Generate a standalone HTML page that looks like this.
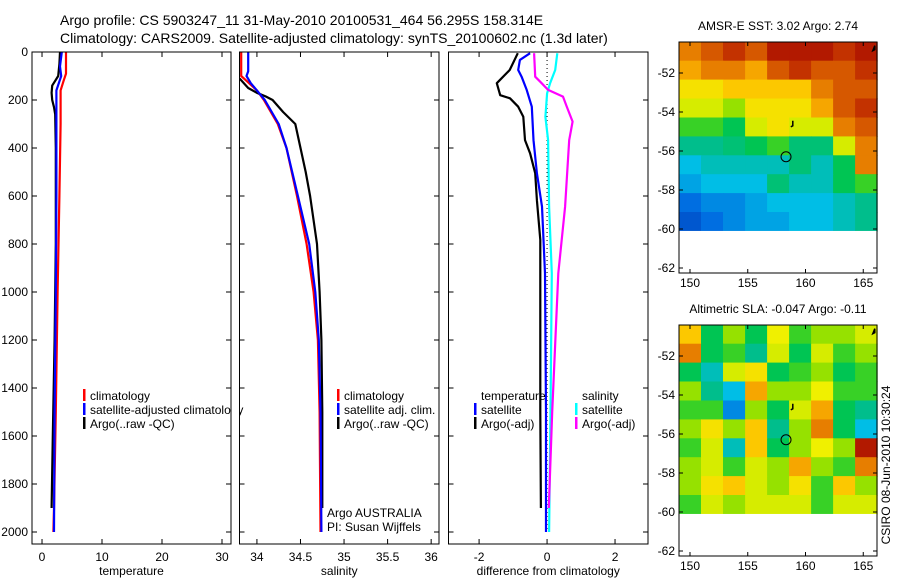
<!DOCTYPE html>
<html><head><meta charset="utf-8">
<style>
html,body{margin:0;padding:0;background:#fff;}
svg{display:block;font-family:"Liberation Sans",sans-serif;}
text{fill:#000;}
</style></head>
<body>
<svg id="fig" width="900" height="580" viewBox="0 0 900 580" xmlns="http://www.w3.org/2000/svg">
<text x="60" y="25" font-size="14">Argo profile: CS 5903247_11 31-May-2010 20100531_464 56.295S 158.314E</text>
<text x="60" y="43" font-size="14">Climatology: CARS2009. Satellite-adjusted climatology: synTS_20100602.nc (1.3d later)</text>
</svg>
<script>
// ---------- data ----------
const depthTicks=[0,200,400,600,800,1000,1200,1400,1600,1800,2000];
const tempTicks=[0,10,20,30];
const salTicks=[34,34.5,35,35.5,36];
const salTickLabels=["34","34.5","35","35.5","36"];
const diffTicks=[-2,0,2];
// temperature panel
const tArgoDepth=[0,50,100,120,140,170,200,230,260,400,800,1200,1600,1900];
const tArgoVal=[3.0,2.9,2.7,2.2,1.7,1.6,1.7,2.0,2.2,2.3,2.3,2.1,1.8,1.6];
const tClimDepth=[0,90,120,160,300,600,1000,1500,1900,2000];
const tClimVal=[4.0,4.0,3.6,3.1,3.1,2.9,2.6,2.3,2.0,1.9];
const tSatDepth=[0,60,100,160,250,600,1000,1500,2000];
const tSatVal=[3.3,3.0,3.2,2.4,2.4,2.4,2.3,2.1,2.0];
// salinity panel
const sArgoDepth=[110,130,150,170,185,200,250,300,400,500,600,800,1000,1200,1500,1900];
const sArgoVal=[33.8,33.85,33.9,34.0,34.1,34.18,34.3,34.44,34.5,34.56,34.61,34.69,34.72,34.74,34.75,34.75];
const sClimDepth=[0,100,120,160,200,300,400,600,800,1000,1200,1500,2000];
const sClimVal=[33.82,33.82,33.88,34.0,34.08,34.24,34.34,34.46,34.57,34.65,34.7,34.72,34.73];
const sSatDepth=[0,80,100,130,160,200,300,400,600,800,1000,1200,1500,2000];
const sSatVal=[33.9,33.9,33.88,33.93,34.0,34.09,34.25,34.34,34.47,34.6,34.67,34.71,34.73,34.74];
// difference panel
const dTempArgoDepth=[5,75,130,180,193,228,270,367,422,505,617,783,1200,1500,1900];
const dTempArgoVal=[-0.86,-1.1,-1.48,-1.38,-1.09,-0.85,-0.7,-0.65,-0.5,-0.35,-0.3,-0.2,-0.2,-0.2,-0.18];
const dTempSatDepth=[5,33,75,103,158,228,367,505,644,922,1500,2000];
const dTempSatVal=[-0.5,-0.8,-0.85,-0.75,-0.6,-0.45,-0.4,-0.3,-0.15,-0.06,-0.03,-0.03];
const dSalSatDepth=[5,75,130,172,270,367,644,922,1500,2000];
const dSalSatVal=[0.3,0.24,0.09,0.0,-0.05,0.03,0.06,0.14,0.1,0.06];
const dSalArgoDepth=[5,103,124,158,186,228,290,367,644,922,1500,1900];
const dSalArgoVal=[-0.38,-0.35,-0.2,0.03,0.47,0.58,0.75,0.65,0.53,0.33,0.15,0.05];
// maps (0..1 colour index), rows north->south, cols west->east
const sstGrid=[
[0.8,0.85,0.9,0.85,0.95,0.95,0.95,0.9,0.95],
[0.75,0.8,0.8,0.75,0.85,0.9,0.85,0.85,0.9],
[0.65,0.65,0.7,0.7,0.7,0.7,0.8,0.85,0.85],
[0.6,0.6,0.55,0.65,0.65,0.65,0.75,0.85,0.9],
[0.5,0.5,0.45,0.6,0.65,0.6,0.6,0.8,0.85],
[0.4,0.4,0.42,0.45,0.5,0.42,0.42,0.6,0.8],
[0.3,0.35,0.35,0.35,0.35,0.42,0.35,0.45,0.8],
[0.25,0.3,0.3,0.3,0.42,0.35,0.35,0.45,0.5],
[0.15,0.2,0.2,0.25,0.3,0.3,0.3,0.35,0.4],
[0.1,0.15,0.2,0.25,0.25,0.3,0.3,0.35,0.4]];
const slaGrid=[
[0.7,0.45,0.55,0.45,0.62,0.5,0.55,0.55,0.6],
[0.8,0.45,0.5,0.4,0.6,0.45,0.6,0.5,0.55],
[0.45,0.35,0.6,0.65,0.45,0.5,0.55,0.45,0.5],
[0.55,0.4,0.3,0.75,0.55,0.55,0.62,0.5,0.5],
[0.5,0.5,0.2,0.55,0.45,0.6,0.75,0.45,0.4],
[0.55,0.65,0.55,0.7,0.4,0.55,0.8,0.45,0.3],
[0.5,0.6,0.35,0.7,0.45,0.55,0.62,0.55,0.95],
[0.55,0.6,0.5,0.6,0.55,0.75,0.55,0.5,0.8],
[0.55,0.65,0.7,0.6,0.55,0.65,0.5,0.7,0.55],
[0.5,0.6,0.55,0.6,0.6,0.6,0.5,0.6,0.6]];
const latTicks=[-52,-54,-56,-58,-60,-62];
const lonTicks=[150,155,160,165];
const argoLon=158.314, argoLat=-56.295;

// ---------- drawing ----------
const svg=document.getElementById('fig');
const NS='http://www.w3.org/2000/svg';
function el(tag,attrs,parent){const e=document.createElementNS(NS,tag);for(const k in attrs)e.setAttribute(k,attrs[k]);(parent||svg).appendChild(e);return e;}
function txt(x,y,s,size,anchor,parent){const t=el('text',{x:x,y:y,'font-size':size,'text-anchor':anchor||'start'},parent);t.textContent=s;return t;}

const Y0=52,Y1=544;
const yDepth=d=>52+d*0.24;
const panels=[
 {name:'temperature',x0:32,x1:231,v0:-1.67,v1:31.5,ticks:tempTicks,labels:tempTicks.map(String),label:'temperature',ylabels:true},
 {name:'salinity',x0:239.5,x1:439,v0:33.8,v1:36.09,ticks:salTicks,labels:salTickLabels,label:'salinity'},
 {name:'difference',x0:448.5,x1:648,v0:-2.9,v1:2.97,ticks:diffTicks,labels:diffTicks.map(String),label:'difference from climatology'}
];
panels.forEach((p,i)=>{
 p.xs=v=>p.x0+(v-p.v0)/(p.v1-p.v0)*(p.x1-p.x0);
 const g=el('g',{});
 
 
 const cp=el('clipPath',{id:'clip'+i},g);
 el('rect',{x:p.x0,y:Y0,width:p.x1-p.x0,height:Y1-Y0},cp);
 el('rect',{x:p.x0,y:Y0,width:p.x1-p.x0,height:Y1-Y0,fill:'none',stroke:'#000','stroke-width':1});
 p.ticks.forEach((t,k)=>{const x=p.xs(t);
  el('line',{x1:x,x2:x,y1:Y1,y2:Y1-5,stroke:'#000'},g);el('line',{x1:x,x2:x,y1:Y0,y2:Y0+5,stroke:'#000'},g);
  const lt=txt(x,561,p.labels[k],12,'middle',g);
  
  });
 depthTicks.forEach(d=>{const y=yDepth(d);
  el('line',{x1:p.x0,x2:p.x0+5,y1:y,y2:y,stroke:'#000'},g);el('line',{x1:p.x1,x2:p.x1-5,y1:y,y2:y,stroke:'#000'},g);
  if(p.ylabels){const lt=txt(28,y+4,String(d),12,'end',g);
   
   }});
 const xl=txt((p.x0+p.x1)/2,575,p.label,12,'middle',g);
 
 
 p.g=el('g',{'clip-path':'url(#clip'+i+')'},g);
});
function line(p,depths,vals,color,name){
 const pts=depths.map((d,k)=>p.xs(vals[k]).toFixed(1)+','+yDepth(d).toFixed(1)).join(' ');
 const l=el('polyline',{points:pts,fill:'none',stroke:color,'stroke-width':2.2,'stroke-linejoin':'round'},p.g);
 
 
}
const zl=el('line',{x1:panels[2].xs(0),x2:panels[2].xs(0),y1:Y0,y2:yDepth(2000),stroke:'#000','stroke-width':1,'stroke-dasharray':'1,3'},panels[2].g);



line(panels[0],tClimDepth,tClimVal,'#ff0000','temp-climatology-line');
line(panels[0],tArgoDepth,tArgoVal,'#000000','temp-argo-line');
line(panels[0],tSatDepth,tSatVal,'#0000ff','temp-satellite-line');
line(panels[1],sClimDepth,sClimVal,'#ff0000','sal-climatology-line');
line(panels[1],sArgoDepth,sArgoVal,'#000000','sal-argo-line');
line(panels[1],sSatDepth,sSatVal,'#0000ff','sal-satellite-line');
line(panels[2],dTempArgoDepth,dTempArgoVal,'#000000','diff-temp-argo-line');
line(panels[2],dTempSatDepth,dTempSatVal,'#0000ff','diff-temp-satellite-line');
line(panels[2],dSalSatDepth,dSalSatVal,'#00ffff','diff-sal-satellite-line');
line(panels[2],dSalArgoDepth,dSalArgoVal,'#ff00ff','diff-sal-argo-line');

function legendItem(x,y,color,label,name){
 const g=el('g',{});
 
 
 if(color) el('rect',{x:x,y:y-9,width:2.5,height:12,fill:color},g);
 txt(x+7,y+2,label,12,'start',g);
}
legendItem(83,398,'#ff0000','climatology','legend-climatology');
legendItem(83,412,'#0000ff','satellite-adjusted climatology','legend-satellite-adjusted');
legendItem(83,426,'#000000','Argo(..raw -QC)','legend-argo');
legendItem(337,398,'#ff0000','climatology','legend-sal-climatology');
legendItem(337,412,'#0000ff','satellite adj. clim.','legend-sal-satellite');
legendItem(337,426,'#000000','Argo(..raw -QC)','legend-sal-argo');
legendItem(474,398,null,'temperature','legend-temperature-heading');
legendItem(474,412,'#0000ff','satellite','legend-diff-temp-satellite');
legendItem(474,426,'#000000','Argo(-adj)','legend-diff-temp-argo');
legendItem(575,398,null,'salinity','legend-salinity-heading');
legendItem(575,412,'#00ffff','satellite','legend-diff-sal-satellite');
legendItem(575,426,'#ff00ff','Argo(-adj)','legend-diff-sal-argo');
const a1=txt(327,517,'Argo AUSTRALIA',12);
const a2=txt(327,531,'PI: Susan Wijffels',12);
el('rect',{x:231.5,y:400,width:7.5,height:20,fill:'#fff'});
el('line',{x1:231,x2:231,y1:400,y2:420,stroke:'#000'});
el('line',{x1:239.5,x2:239.5,y1:400,y2:420,stroke:'#000'});

// ---------- maps ----------
const cstops=[[0,[0,40,170]],[0.15,[0,110,225]],[0.3,[0,190,230]],[0.4,[0,190,140]],[0.47,[0,200,60]],[0.55,[150,225,0]],[0.62,[240,240,0]],[0.72,[255,190,0]],[0.82,[225,110,0]],[0.9,[195,50,0]],[1,[160,0,0]]];
function cmap(v){for(let i=1;i<cstops.length;i++){if(v<=cstops[i][0]){const a=cstops[i-1],b=cstops[i],t=(v-a[0])/(b[0]-a[0]);const c=a[1].map((x,k)=>Math.round(x+(b[1][k]-x)*t));return 'rgb('+c+')';}}return 'rgb(160,0,0)';}
function drawMap(grid,top,title,name){
 const g=el('g',{});
 
 
 const lonX=lon=>690+(lon-150)*11.55;
 const latY=lat=>top+31+(-52-lat)*19.5;
 const x0=679,x1=877,y0=top,y1=top+231;
 const latN=-50.4,latS=-60.1,lonW=149.05,lonE=166.2;
 const nr=grid.length,nc=grid[0].length;
 const dlat=(latN-latS)/nr,dlon=(lonE-lonW)/nc;
 grid.forEach((row,r)=>row.forEach((v,c)=>{
  const xa=lonX(lonW+c*dlon),xb=lonX(lonW+(c+1)*dlon),ya=latY(latN-r*dlat),yb=latY(latN-(r+1)*dlat);
  const cell=el('rect',{x:xa.toFixed(1),y:ya.toFixed(1),width:(xb-xa+0.6).toFixed(1),height:(yb-ya+0.6).toFixed(1),fill:cmap(v)},g);
  
  
 }));
 el('rect',{x:x0,y:latY(latS),width:x1-x0,height:y1-latY(latS),fill:'#fff'},g);
 el('rect',{x:x0,y:y0,width:x1-x0,height:y1-y0,fill:'none',stroke:'#000'},g);
 latTicks.forEach(l=>{const y=latY(l);el('line',{x1:x0,x2:x0+4,y1:y,y2:y,stroke:'#000'},g);el('line',{x1:x1,x2:x1-4,y1:y,y2:y,stroke:'#000'},g);
  const t=txt(675,y+4,String(l),12,'end',g);});
 lonTicks.forEach(l=>{const x=lonX(l);el('line',{x1:x,x2:x,y1:y1,y2:y1-4,stroke:'#000'},g);el('line',{x1:x,x2:x,y1:y0,y2:y0+4,stroke:'#000'},g);
  const t=txt(x,y1+14,String(l),12,'middle',g);});
 const c=el('circle',{cx:lonX(argoLon),cy:latY(argoLat),r:5,fill:'none',stroke:'#000','stroke-width':1},g);
 
 
 el('path',{d:`M${lonX(158.9)} ${latY(-54.45)} l0 5 l-2 1`,stroke:'#000','stroke-width':1.5,fill:'none'},g);
 el('path',{d:`M${lonX(166)} ${latY(-50.6)} l-2 5 l2 -1 z`,stroke:'#000','stroke-width':1.5,fill:'#000'},g);
 const tt=txt(778,top-12,title,12,'middle',g);
 
 
}
drawMap(sstGrid,42,'AMSR-E SST: 3.02  Argo: 2.74','sst-map');
drawMap(slaGrid,325,'Altimetric SLA: -0.047  Argo: -0.11','sla-map');
const st=txt(0,0,'CSIRO 08-Jun-2010 10:30:24',12,'middle');
st.setAttribute('transform','translate(890,465) rotate(-90)');


</script>
</body></html>
